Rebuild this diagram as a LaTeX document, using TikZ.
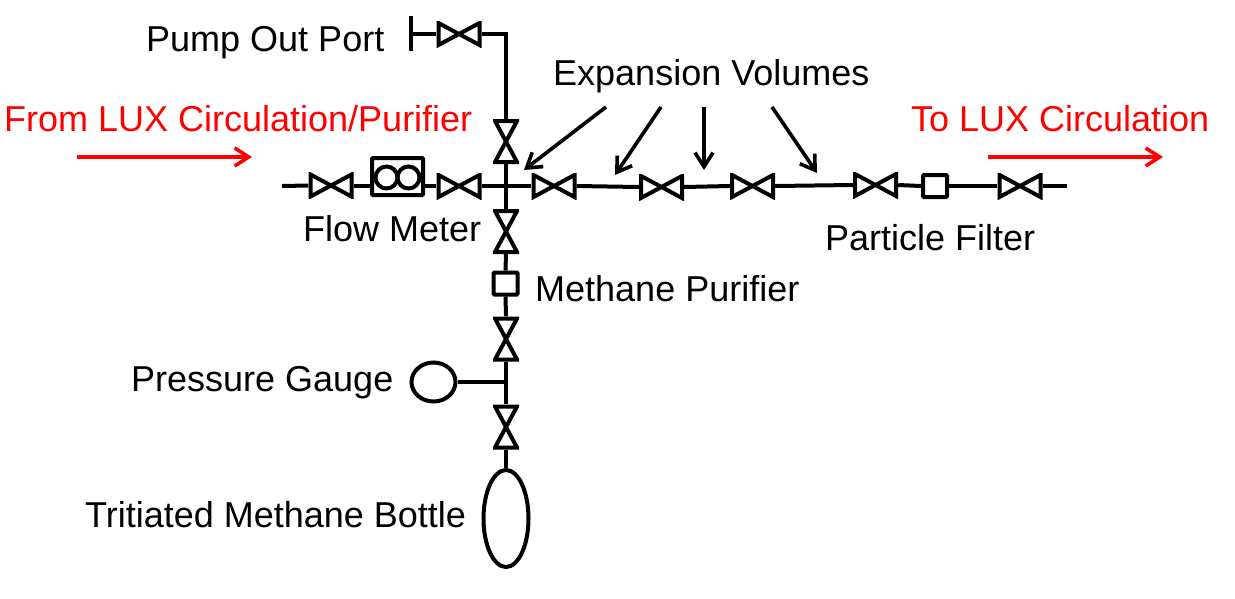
\documentclass[tikz,border=0pt]{standalone}
\usepackage{fontspec}
\setmainfont{Liberation Sans}
\usetikzlibrary{arrows.meta,shapes.geometric}
\newcommand{\labfont}{\fontsize{36}{40}\selectfont}
\tikzset{
    pipe/.style={line width=4pt},
    hvalve/.style={minimum width=45pt, minimum height=26pt, inner sep=0pt,
        path picture={\draw[pipe, line join=miter]
            ([shift={(2,2)}]path picture bounding box.north west)
            -- ([shift={(-2,-2)}]path picture bounding box.south east)
            -- ([shift={(-2,2)}]path picture bounding box.north east)
            -- ([shift={(2,-2)}]path picture bounding box.south west)
            -- cycle;}},
    vvalve/.style={minimum width=26pt, minimum height=45pt, inner sep=0pt,
        path picture={\draw[pipe, line join=miter]
            ([shift={(2,2)}]path picture bounding box.north west)
            -- ([shift={(-2,2)}]path picture bounding box.north east)
            -- ([shift={(2,-2)}]path picture bounding box.south west)
            -- ([shift={(-2,-2)}]path picture bounding box.south east)
            -- cycle;}},
    filterbox/.style={draw, pipe, rounded corners=1pt, minimum width=24pt, minimum height=22pt, inner sep=0pt},
    vessel/.style={draw, pipe, ellipse, inner sep=0pt},
    lab/.style={anchor=base west, inner sep=0pt, font=\labfont},
    redlab/.style={lab, text=red},
    pointer/.style={line width=3.6pt, -{Straight Barb[length=14pt,width=18pt,line width=3.6pt]}},
    flowarrow/.style={pointer, red}
}
\begin{document}
\begin{tikzpicture}[x=1pt,y=-1pt]
\useasboundingbox[fill=white] (0,0) rectangle (1235,598);

% labels
\node[lab] (portlab) at (146,51) {Pump Out Port};
\node[lab] (expanlab) at (553,85) {Expansion Volumes};
\node[redlab] (fromlab) at (4,131) {From LUX Circulation/Purifier};
\node[redlab] (tolab) at (911,131) {To LUX Circulation};
\node[lab] (meterlab) at (303,241) {Flow Meter};
\node[lab] (filterlab) at (825,250) {Particle Filter};
\node[lab] (purifierlab) at (535,301) {Methane Purifier};
\node[lab] (gaugelab) at (131,391) {Pressure Gauge};
\node[lab] (bottlelab) at (85,527) {Tritiated Methane Bottle};

% valves
\node[hvalve] (vport) at (459,34) {};
\node[vvalve] (vtop) at (506,141.5) {};
\node[hvalve] (vin) at (331,185.5) {};
\node[hvalve] (vmeter) at (459,186) {};
\node[hvalve] (va) at (554,186) {};
\node[hvalve] (vb) at (661.5,187) {};
\node[hvalve] (vc) at (752.5,186) {};
\node[hvalve] (vd) at (875.5,185) {};
\node[hvalve] (vout) at (1020,186) {};
\node[vvalve] (vdown) at (506,231.5) {};
\node[vvalve] (vpur) at (506,339) {};
\node[vvalve] (vgauge) at (506,427) {};

% components
\node[filterbox, minimum width=51pt, minimum height=37pt] (meter) at (397.5,176.5) {};
\node[draw, pipe, circle, minimum size=22pt, inner sep=0pt] (meterl) at (386.5,177.5) {};
\node[draw, pipe, circle, minimum size=22pt, inner sep=0pt] (meterr) at (408.5,177.5) {};
\node[filterbox] (partfilter) at (935,186) {};
\node[filterbox] (mpurifier) at (505.5,283.5) {};
\node[vessel, minimum width=44pt, minimum height=39pt] (gauge) at (433.5,382) {};
\node[vessel, minimum width=45pt, minimum height=97pt] (bottle) at (506,518.5) {};

% free ends
\coordinate (cross) at (506,186);
\coordinate (tee) at (506,382);
\coordinate (lineinn) at (282,186);
\coordinate (lineout) at (1067,186);
\coordinate (port) at (411,34);
\coordinate (portup) at (411,16);
\coordinate (portdown) at (411,51);
\coordinate (bend) at (506,34);

% pipes
\draw[pipe] (portup) -- (portdown);
\draw[pipe] (port) -- (vport.west);
\draw[pipe] (vport.east) -- (bend) -- (vtop.north);
\draw[pipe] (vtop.south) -- (cross);
\draw[pipe] (lineinn) -- (vin.west);
\draw[pipe] (vin.east) -- (vin.east -| meter.west);
\draw[pipe] (vmeter.west -| meter.east) -- (vmeter.west);
\draw[pipe] (vmeter.east) -- (cross);
\draw[pipe] (cross) -- (va.west);
\draw[pipe] (va.east) -- (vb.west);
\draw[pipe] (vb.east) -- (vc.west);
\draw[pipe] (vc.east) -- (vd.west);
\draw[pipe] (vd.east) -- (partfilter.west);
\draw[pipe] (partfilter.east) -- (vout.west);
\draw[pipe] (vout.east) -- (lineout);
\draw[pipe] (cross) -- (vdown.north);
\draw[pipe] (vdown.south) -- (mpurifier.north);
\draw[pipe] (mpurifier.south) -- (vpur.north);
\draw[pipe] (vpur.south) -- (vgauge.north);
\draw[pipe] (gauge.east) -- (tee);
\draw[pipe] (vgauge.south) -- (bottle.north);

% arrows
\coordinate (ptra) at (606,107);
\coordinate (ptrb) at (661,107);
\coordinate (ptrc) at (704,107);
\coordinate (ptrd) at (772,107);
\coordinate (tipa) at (524,170);
\coordinate (tipb) at (615,175);
\coordinate (tipc) at (704,170);
\coordinate (tipd) at (817,173);
\coordinate (inflowa) at (77,157);
\coordinate (inflowb) at (252,157);
\coordinate (outflowa) at (988,157);
\coordinate (outflowb) at (1163,157);
\draw[pointer] (ptra) -- (tipa);
\draw[pointer] (ptrb) -- (tipb);
\draw[pointer] (ptrc) -- (tipc);
\draw[pointer] (ptrd) -- (tipd);
\draw[flowarrow] (inflowa) -- (inflowb);
\draw[flowarrow] (outflowa) -- (outflowb);
\end{tikzpicture}
\end{document}
